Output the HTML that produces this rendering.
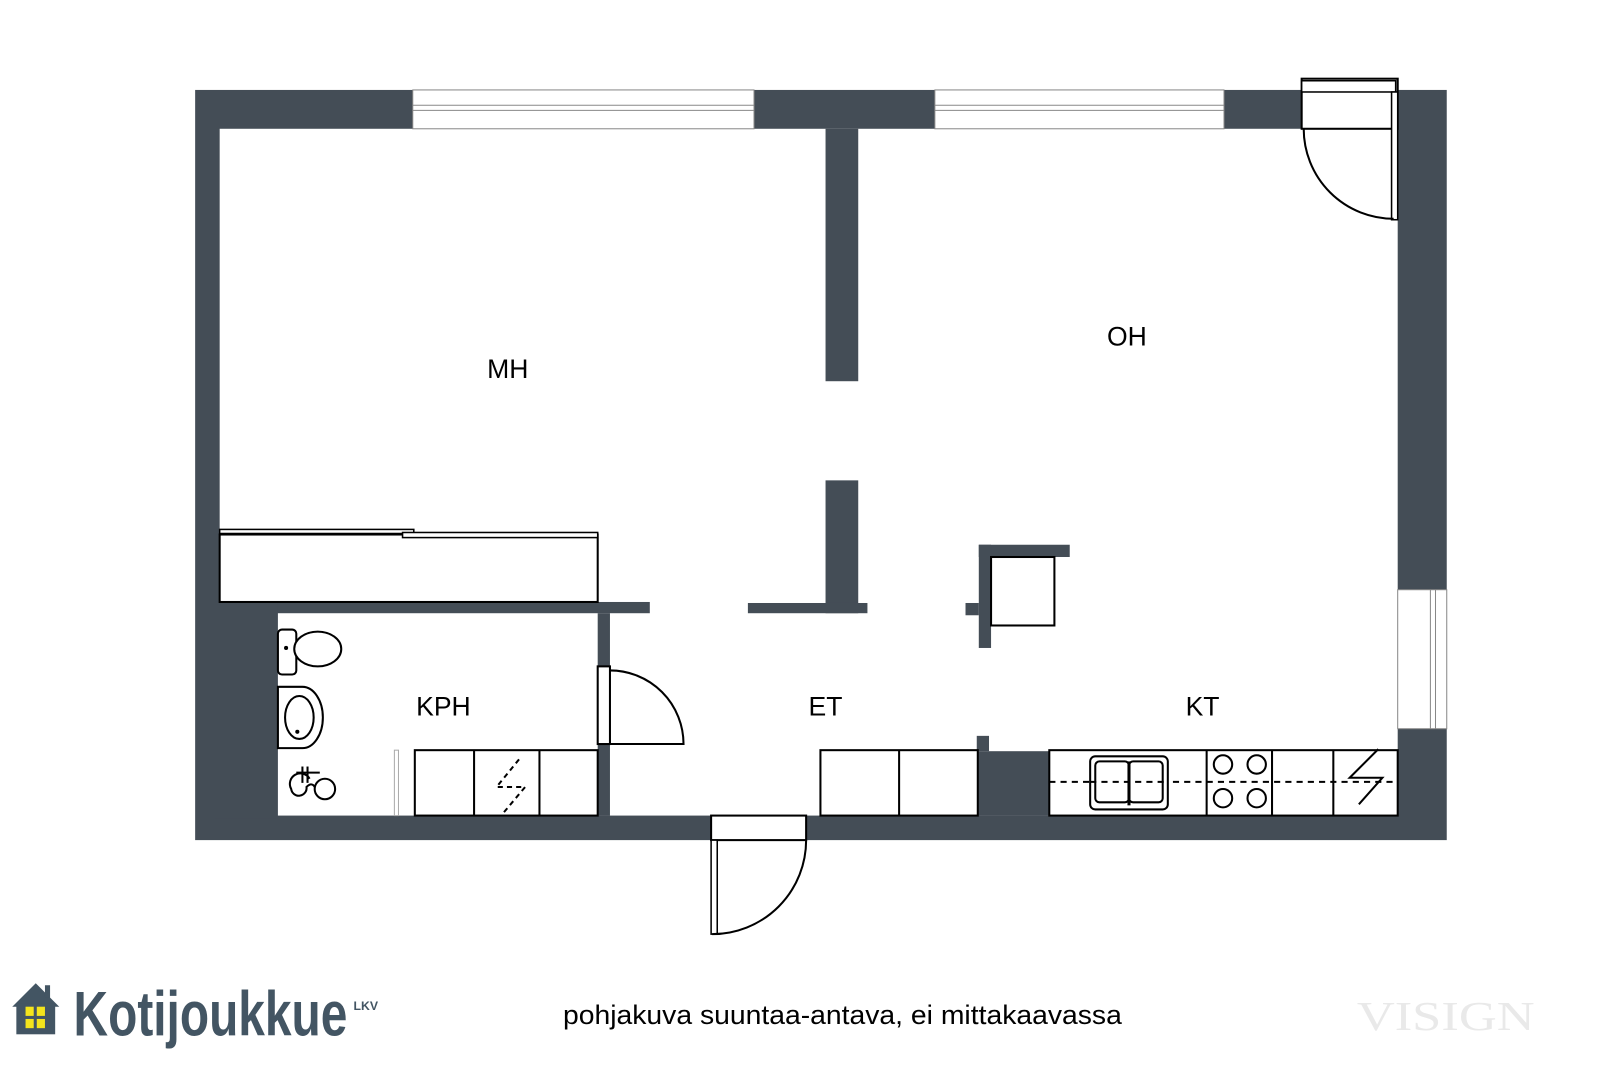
<!DOCTYPE html>
<html><head><meta charset="utf-8"><style>html,body{margin:0;padding:0;background:#fff}svg{display:block}</style></head>
<body>
<svg width="1600" height="1067" viewBox="0 0 1566 1044" preserveAspectRatio="none" xmlns="http://www.w3.org/2000/svg">
<rect width="1566" height="1044" fill="#fff"/>
<g fill="#444d56">
<rect x="191" y="88" width="1225" height="734"/>
</g>
<rect x="215" y="126" width="1153" height="672" fill="#fff"/>
<!-- windows top -->
<g fill="#fff" stroke="#888" stroke-width="1">
<rect x="404" y="88" width="334" height="38"/>
<rect x="915" y="88" width="283" height="38"/>
<rect x="1368" y="577" width="48" height="136"/>
</g>
<g stroke="#888" stroke-width="1" fill="none">
<line x1="404" y1="103" x2="738" y2="103"/><line x1="404" y1="108" x2="738" y2="108"/>
<line x1="915" y1="103" x2="1198" y2="103"/><line x1="915" y1="108" x2="1198" y2="108"/>
<line x1="1400" y1="577" x2="1400" y2="713"/><line x1="1405" y1="577" x2="1405" y2="713"/>
</g>
<!-- interior walls -->
<g fill="#444d56">
<rect x="808" y="126" width="32" height="247"/>
<rect x="808" y="470" width="32" height="130"/>
<rect x="732" y="590" width="117" height="10"/>
<rect x="210" y="589" width="426" height="11"/>
<rect x="210" y="589" width="62" height="212"/>
<rect x="585" y="600" width="12" height="198"/>
<rect x="958" y="533" width="89" height="12"/>
<rect x="958" y="533" width="12" height="101"/>
<rect x="945" y="590" width="13" height="12"/>
<rect x="956" y="720" width="12" height="15"/>
<rect x="956" y="735" width="71" height="63"/>
</g>
<!-- openings -->
<rect x="1274" y="77" width="94" height="49" fill="#fff" stroke="#000" stroke-width="2"/>
<rect x="1274" y="79" width="92" height="11" fill="#fff" stroke="#000" stroke-width="1.5"/>
<rect x="1362" y="90" width="6" height="125" fill="#fff" stroke="#000" stroke-width="1.5"/>
<path d="M1276 126 A88 88 0 0 0 1364 214" fill="none" stroke="#000" stroke-width="2"/>
<rect x="585" y="652" width="12" height="76" fill="#fff" stroke="#000" stroke-width="2"/>
<path d="M597 656 A72 72 0 0 1 669 728 L597 728" fill="none" stroke="#000" stroke-width="2"/>
<rect x="696" y="798" width="93" height="24" fill="#fff" stroke="#000" stroke-width="2"/>
<rect x="696" y="822" width="6" height="92" fill="#fff" stroke="#000" stroke-width="1.5"/>
<path d="M789 822 A92 92 0 0 1 697 914" fill="none" stroke="#000" stroke-width="2"/>
<!-- wardrobe -->
<g fill="#fff" stroke="#000" stroke-width="2">
<rect x="215" y="523" width="370" height="66"/>
<rect x="215" y="518" width="190" height="4" stroke-width="1.5"/>
<rect x="394" y="521" width="191" height="5" stroke-width="1.5"/>
</g>
<!-- chimney box -->
<rect x="970" y="545" width="62" height="67" fill="#fff" stroke="#000" stroke-width="2"/>
<!-- bathroom fixtures -->
<g fill="#fff" stroke="#000" stroke-width="2">
<rect x="272" y="616" width="18" height="44" rx="4"/>
<ellipse cx="311" cy="635" rx="23" ry="17"/>
<path d="M272 672 L296 672 A20 30 0 0 1 296 732 L272 732 Z"/>
<ellipse cx="293" cy="702" rx="14" ry="21"/>
<circle cx="318" cy="772" r="10"/>
<path d="M303 762 A8 8 0 0 0 285 772 A7 7 0 0 0 300 770 Q305 765 308 770" fill="none"/>
<rect x="406" y="734" width="179" height="64"/>
<line x1="464" y1="734" x2="464" y2="798"/>
<line x1="528" y1="734" x2="528" y2="798"/>
<rect x="803" y="734" width="154" height="64"/>
<line x1="880" y1="734" x2="880" y2="798"/>
<rect x="1027" y="734" width="341" height="64"/>
<line x1="1181" y1="734" x2="1181" y2="798"/>
<line x1="1245" y1="734" x2="1245" y2="798"/>
<line x1="1305" y1="734" x2="1305" y2="798"/>
</g>
<g fill="#000"><circle cx="280" cy="634" r="2"/><circle cx="291" cy="716" r="2"/></g>
<g stroke="#000" stroke-width="2" fill="none">
<line x1="296" y1="750" x2="296" y2="766"/><line x1="301" y1="750" x2="301" y2="766"/>
<line x1="290" y1="756" x2="313" y2="756"/>
</g>
<rect x="386" y="734" width="4" height="64" fill="#fff" stroke="#aaa" stroke-width="1"/>
<path d="M508 753 L486 780 L514 780 L493 805" transform="translate(0,-10)" fill="none" stroke="#000" stroke-width="2" stroke-dasharray="5,4"/>
<!-- kitchen -->
<line x1="1027" y1="765" x2="1368" y2="765" stroke="#000" stroke-width="2" stroke-dasharray="6,5"/>
<g fill="none" stroke="#000" stroke-width="2">
<rect x="1067" y="740" width="76" height="52" rx="5" fill="#fff"/>
<rect x="1072" y="745" width="33" height="40" rx="4"/>
<rect x="1105" y="745" width="33" height="40" rx="4"/>
<line x1="1105" y1="745" x2="1105" y2="788" stroke-width="3"/>
<line x1="1067" y1="765" x2="1143" y2="765" stroke-dasharray="6,5"/>
<circle cx="1197" cy="748" r="9"/><circle cx="1230" cy="748" r="9"/>
<circle cx="1197" cy="781" r="9"/><circle cx="1230" cy="781" r="9"/>
<path d="M1349 754 L1321 782 L1353 782 L1330 808" transform="translate(0,-21)"/>
</g>
<!-- labels -->
<g font-family="Liberation Sans, sans-serif" font-size="26" fill="#000" text-anchor="middle">
<text x="497" y="370">MH</text>
<text x="1103" y="338">OH</text>
<text x="434" y="700">KPH</text>
<text x="808" y="700">ET</text>
<text x="1177" y="700">KT</text>
</g>
<text x="551" y="1002" font-family="Liberation Sans, sans-serif" font-size="26" textLength="547" lengthAdjust="spacingAndGlyphs" fill="#000">pohjakuva suuntaa-antava, ei mittakaavassa</text>
<text x="1328" y="1008" font-family="Liberation Serif, serif" font-size="40" fill="#e9e9e9" textLength="174" lengthAdjust="spacingAndGlyphs">VISIGN</text>
<!-- logo -->
<path d="M12 985 L35 962 L58 985 Z" fill="#435563"/>
<rect x="16" y="982" width="38" height="30" fill="#435563"/>
<rect x="44" y="964" width="5" height="12" fill="#435563"/>
<g fill="#f4e41c"><rect x="25" y="985" width="8" height="9"/><rect x="36" y="985" width="8" height="9"/><rect x="25" y="997" width="8" height="9"/><rect x="36" y="997" width="8" height="9"/></g>
<text x="72" y="1013" font-family="Liberation Sans Narrow, Liberation Sans, sans-serif" font-weight="bold" font-size="62" fill="#435563" textLength="268" lengthAdjust="spacingAndGlyphs">Kotijoukkue</text>
<text x="346" y="988" font-family="Liberation Sans, sans-serif" font-weight="bold" font-size="12" fill="#435563">LKV</text>
</svg>
</body></html>
